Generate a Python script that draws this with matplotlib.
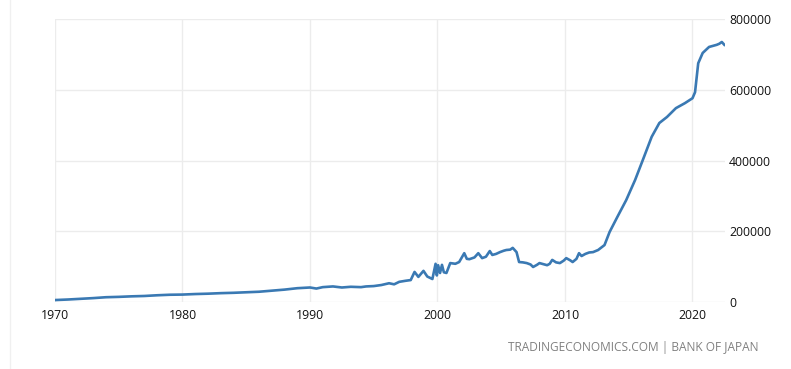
import matplotlib
matplotlib.use("Agg")
import matplotlib.pyplot as plt
from matplotlib.lines import Line2D

# Monetary base, Japan (100 million JPY)
years = [1970.0, 1971.0, 1972.0, 1973.0, 1974.0, 1975.0, 1976.0, 1977.0, 1978.0, 1979.0,
         1980.0, 1981.0, 1982.0, 1983.0, 1984.0, 1985.0, 1986.0, 1987.0, 1988.0, 1989.0,
         1990.0, 1990.5, 1991.0, 1991.8, 1992.5, 1993.2, 1994.0, 1994.4, 1995.0, 1995.6,
         1996.2, 1996.6, 1997.0, 1997.5, 1997.9, 1998.2, 1998.5, 1998.9, 1999.2, 1999.6,
         1999.85, 1999.95, 2000.05, 2000.2, 2000.35, 2000.5, 2000.7, 2001.0, 2001.4, 2001.7,
         2002.1, 2002.3, 2002.5, 2002.9, 2003.2, 2003.5, 2003.8, 2004.1, 2004.3, 2004.6,
         2004.9, 2005.2, 2005.4, 2005.7, 2005.9, 2006.2, 2006.4, 2006.7, 2007.0, 2007.3,
         2007.5, 2007.8, 2008.0, 2008.3, 2008.6, 2008.8, 2009.0, 2009.3, 2009.6, 2009.9,
         2010.1, 2010.4, 2010.6, 2010.9, 2011.1, 2011.3, 2011.6, 2011.9, 2012.2, 2012.6,
         2013.1, 2013.5, 2014.1, 2014.8, 2015.5, 2016.1, 2016.8, 2017.4, 2018.0, 2018.7,
         2019.4, 2020.0, 2020.2, 2020.45, 2020.8, 2021.3, 2021.6, 2021.9, 2022.1, 2022.3,
         2022.5]
values = [5500, 7000, 9000, 11000, 13500, 14500, 16000, 17000, 19000, 20500,
          21000, 22500, 23500, 25000, 26000, 27500, 29000, 32000, 35000, 39000,
          41000, 38000, 42000, 44000, 41000, 43000, 42000, 44000, 45000, 48000,
          53000, 50000, 57000, 60000, 62000, 85000, 71000, 88000, 72000, 65000,
          108000, 75000, 104000, 82000, 105000, 84000, 82000, 110000, 108000, 113000,
          138000, 122000, 121000, 126000, 138000, 124000, 128000, 144000, 133000, 136000,
          141000, 145000, 147000, 148000, 153000, 141000, 113000, 112000, 110000, 106000,
          99000, 105000, 110000, 107000, 104000, 108000, 119000, 112000, 110000, 117000,
          124000, 118000, 113000, 122000, 138000, 130000, 136000, 140000, 141000, 147000,
          161000, 198000, 240000, 288000, 345000, 401000, 467000, 506000, 523000, 548000,
          562000, 576000, 593000, 675000, 704000, 721000, 724000, 727000, 730000, 735000,
          727000]

x_ticks = [1970, 1980, 1990, 2000, 2010, 2020]
y_ticks = [0, 200000, 400000, 600000, 800000]
source = "TRADINGECONOMICS.COM | BANK OF JAPAN"

plt.rcParams["font.family"] = ["Open Sans", "DejaVu Sans"]

fig = plt.figure(figsize=(7.91, 3.69), dpi=100)
ax = fig.add_axes([55/791, 1 - 302/369, (725 - 55)/791, (302 - 19)/369])
ax.plot(years, values, color="#3a79b3", linewidth=1.9, solid_joinstyle="round")

ax.set_xlim(1970, 2022.55)
ax.set_ylim(0, 800000)
ax.set_xticks(x_ticks)
ax.set_xticklabels([str(t) for t in x_ticks])
ax.set_yticks(y_ticks)
ax.set_yticklabels([str(t) for t in y_ticks])
ax.yaxis.tick_right()
ax.tick_params(axis="both", length=0, labelsize=8.8, colors="#111111")
ax.tick_params(axis="y", pad=3)
ax.tick_params(axis="x", pad=5)
for lab in ax.get_yticklabels():
    lab.set_horizontalalignment("left")
for s in ax.spines.values():
    s.set_visible(False)
ax.grid(True, color="#ececec", linewidth=1)
ax.set_axisbelow(True)

fig.add_artist(Line2D([10/791, 10/791], [0, 1], transform=fig.transFigure,
                      color="#f0f0f0", linewidth=1))
fig.text(758/791, 1 - 348/369, source, ha="right", va="center",
         fontsize=8.6, color="#808080")

fig.savefig("out.png", dpi=100)
